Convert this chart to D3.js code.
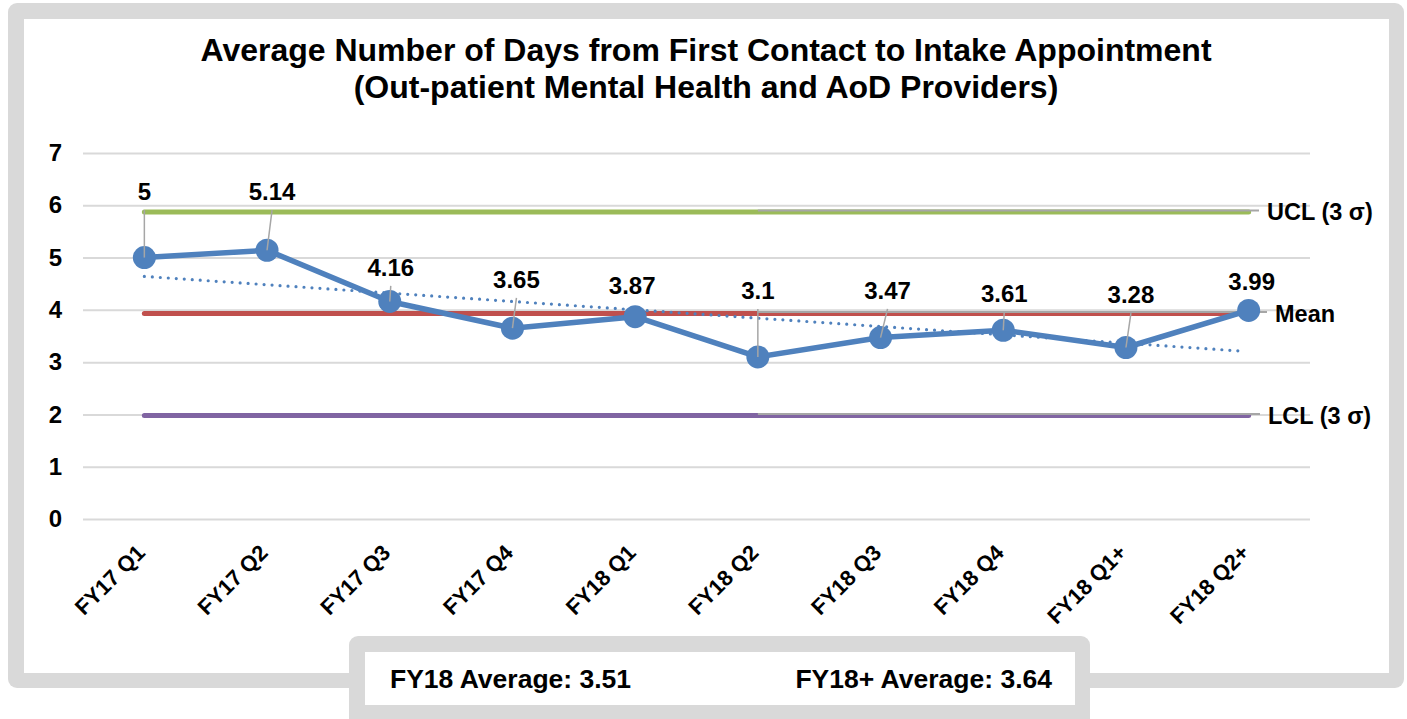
<!DOCTYPE html>
<html>
<head>
<meta charset="utf-8">
<script src="https://cdn.jsdelivr.net/npm/d3@7"></script>
<style>
  html, body { margin: 0; padding: 0; background: #fff; }
  svg { display: block; font-family: Arial, "Liberation Sans", sans-serif; }
</style>
</head>
<body>
<svg id="chart" width="1407" height="719"></svg>
<script>
// données
const categories = ["FY17 Q1", "FY17 Q2", "FY17 Q3", "FY17 Q4", "FY18 Q1", "FY18 Q2", "FY18 Q3", "FY18 Q4", "FY18 Q1+", "FY18 Q2+"];
const days = [5, 5.14, 4.16, 3.65, 3.87, 3.1, 3.47, 3.61, 3.28, 3.99];
const controlNames = ["UCL (3 σ)", "Mean", "LCL (3 σ)"];
const controlValues = [5.87, 3.93, 1.98];
const trendEnds = [4.64, 3.21];
const yTicks = [0, 1, 2, 3, 4, 5, 6, 7];
const titleLines = ["Average Number of Days from First Contact to Intake Appointment", "(Out-patient Mental Health and AoD Providers)"];
const summaryLabels = ["FY18 Average: 3.51", "FY18+ Average: 3.64"];

// mise en page
const width = 1407, height = 719;
const plot = { left: 83, right: 1310, top: 153, bottom: 519 };
const controlColors = ["#9bbb59", "#c0504d", "#8064a2"];
const blue = "#4f81bd";
const leaderGray = "#a6a6a6";
// hauteur des étiquettes (en unités de l'axe) et petit décalage horizontal
const labelAt = [6.1, 6.1, 4.65, 4.42, 4.3, 4.21, 4.21, 4.15, 4.13, 4.38];
const labelDx = [0, 5, 1, 4, -3, 0, 7, 1, 5, 3];

const svg = d3.select("#chart");

// cadre gris arrondi
svg.append("rect")
    .attr("x", 8).attr("y", 3)
    .attr("width", 1396).attr("height", 685)
    .attr("rx", 9)
    .attr("fill", "#d9d9d9");
svg.append("rect")
    .attr("x", 24).attr("y", 19)
    .attr("width", 1365).attr("height", 654)
    .attr("fill", "#fff");

const x = d3.scaleBand()
    .domain(categories)
    .range([plot.left, plot.right]);
const cx = d => x(d) + x.bandwidth() / 2;

const y = d3.scaleLinear()
    .domain([0, 7])
    .range([plot.bottom, plot.top]);

// titre
svg.append("text")
    .attr("text-anchor", "middle")
    .attr("font-size", 32)
    .attr("font-weight", "bold")
    .selectAll("tspan")
    .data(titleLines)
    .join("tspan")
      .attr("x", 706)
      .attr("y", (d, i) => 61 + i * 37)
      .text(d => d);

// grille + axe y
const yAxis = svg.append("g")
    .attr("transform", `translate(${plot.left},0)`)
    .call(d3.axisLeft(y).tickValues(yTicks).tickSize(-(plot.right - plot.left)).tickPadding(21).tickFormat(d3.format("d")));
yAxis.select(".domain").remove();
yAxis.selectAll(".tick line")
    .attr("stroke", "#d9d9d9")
    .attr("stroke-width", 2);
yAxis.selectAll(".tick text")
    .attr("font-size", 24)
    .attr("font-weight", "bold")
    .attr("font-family", "Arial, 'Liberation Sans', sans-serif")
    .attr("fill", "#000");

// axe x
const xAxis = svg.append("g")
    .attr("transform", `translate(0,${plot.bottom})`)
    .call(d3.axisBottom(x).tickSize(0));
xAxis.select(".domain").remove();
xAxis.selectAll(".tick text")
    .attr("x", 0).attr("y", 0).attr("dy", 0)
    .attr("text-anchor", "end")
    .attr("transform", "translate(2,35) rotate(-45)")
    .attr("font-size", 22)
    .attr("font-weight", "bold")
    .attr("font-family", "Arial, 'Liberation Sans', sans-serif")
    .attr("fill", "#000");

// lignes de contrôle
const first = categories[0], last = categories[categories.length - 1];
const split = categories[5];
const controls = controlNames.map((name, i) => ({ name, value: controlValues[i], color: controlColors[i] }));

svg.append("g")
    .selectAll("line")
    .data(controls)
    .join("line")
      .attr("x1", cx(first)).attr("x2", cx(last))
      .attr("y1", d => y(d.value)).attr("y2", d => y(d.value))
      .attr("stroke", d => d.color)
      .attr("stroke-width", 5)
      .attr("stroke-linecap", "round");

// trait gris (ligne de rappel des étiquettes de série)
const labelStart = [1267, 1275, 1268];
svg.append("g")
    .selectAll("line")
    .data(controls)
    .join("line")
      .attr("x1", cx(split))
      .attr("x2", (d, i) => labelStart[i] - 8)
      .attr("y1", d => y(d.value) - 1.5).attr("y2", d => y(d.value) - 1.5)
      .attr("stroke", leaderGray)
      .attr("stroke-width", 2);

svg.append("g")
    .selectAll("text")
    .data(controls)
    .join("text")
      .attr("x", (d, i) => labelStart[i])
      .attr("y", d => y(d.value))
      .attr("dy", "0.35em")
      .attr("font-size", 23.5)
      .attr("font-weight", "bold")
      .text(d => d.name);

// tendance linéaire (pointillés)
svg.append("line")
    .attr("x1", cx(first)).attr("x2", cx(last) - 6)
    .attr("y1", y(trendEnds[0])).attr("y2", y(trendEnds[1]))
    .attr("stroke", blue)
    .attr("stroke-width", 3.2)
    .attr("stroke-linecap", "round")
    .attr("stroke-dasharray", "0 8");

// série principale
const pts = categories.map((c, i) => ({ c, v: days[i], i }));
svg.append("path")
    .datum(pts)
    .attr("fill", "none")
    .attr("stroke", blue)
    .attr("stroke-width", 5.5)
    .attr("stroke-linejoin", "round")
    .attr("d", d3.line().x(d => cx(d.c)).y(d => y(d.v)));

svg.append("g")
    .selectAll("circle")
    .data(pts)
    .join("circle")
      .attr("cx", d => cx(d.c))
      .attr("cy", d => y(d.v))
      .attr("r", 11.5)
      .attr("fill", blue);

// lignes de rappel des étiquettes
svg.append("g")
    .selectAll("line")
    .data(pts.filter(d => y(d.v) - y(labelAt[d.i]) > 25))
    .join("line")
      .attr("x1", d => cx(d.c) + labelDx[d.i])
      .attr("y1", d => y(labelAt[d.i]) + 10)
      .attr("x2", d => cx(d.c))
      .attr("y2", d => y(d.v))
      .attr("stroke", leaderGray)
      .attr("stroke-width", 1.5);

svg.append("g")
    .selectAll("text")
    .data(pts)
    .join("text")
      .attr("x", d => cx(d.c) + labelDx[d.i])
      .attr("y", d => y(labelAt[d.i]))
      .attr("text-anchor", "middle")
      .attr("font-size", 24)
      .attr("font-weight", "bold")
      .text(d => String(d.v));

// encadré du bas
svg.append("rect")
    .attr("x", 349).attr("y", 636)
    .attr("width", 741).attr("height", 100)
    .attr("rx", 9)
    .attr("fill", "#d9d9d9");
svg.append("rect")
    .attr("x", 365).attr("y", 652)
    .attr("width", 710).attr("height", 53)
    .attr("fill", "#fff");

svg.append("g")
    .attr("font-family", "'Liberation Sans Narrow', 'Arial Narrow', Arial, sans-serif")
    .attr("font-size", 26.5)
    .attr("font-weight", "bold")
    .selectAll("text")
    .data(summaryLabels)
    .join("text")
      .attr("x", (d, i) => i === 0 ? 390 : 1052)
      .attr("y", 688)
      .attr("text-anchor", (d, i) => i === 0 ? "start" : "end")
      .text(d => d);
</script>
</body>
</html>
